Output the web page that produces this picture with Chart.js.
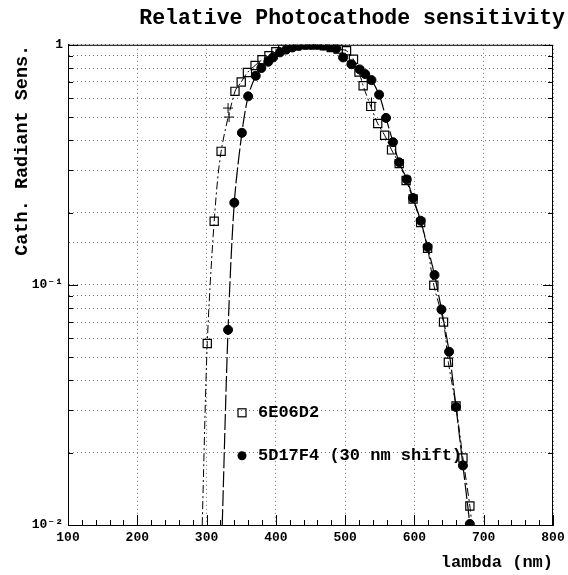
<!DOCTYPE html>
<html>
<head>
<meta charset="utf-8">
<script src="https://cdn.jsdelivr.net/npm/chart.js@4.4.1/dist/chart.umd.min.js"></script>
<style>
	html, body { margin: 0; padding: 0; background: #fff; }
</style>
</head>
<body>
<canvas id="graph_canvas" width="568" height="575"></canvas>
<script>
"use strict";

const FONT_FAMILY = '"Liberation Mono", "DejaVu Sans Mono", monospace'

// texts
const chart_title	= 'Relative Photocathode sensitivity'
const x_title		= 'lambda (nm)'
const y_title		= 'Cath. Radiant Sens.'
const a_label		= '6E06D2'
const b_label		= '5D17F4 (30 nm shift)'

// tick labels (log decades 10^-2 .. 10^0)
const y_tick_labels = ['10⁻²', '10⁻¹', '1']

// 6E06D2 : open squares
const a_lambda	= [301, 311, 321, 341, 350, 359, 370, 380, 390, 400, 410, 420, 430, 440, 450, 460, 470, 480, 490, 502, 512, 520, 526, 537, 547, 557, 567, 578, 588, 598, 609, 619, 628, 642, 649, 660, 670, 680]
const a_sens	= [0.057, 0.184, 0.36, 0.64, 0.70, 0.767, 0.82, 0.866, 0.90, 0.935, 0.96, 0.98, 0.99, 1.0, 1.0, 1.0, 0.99, 0.975, 0.96, 0.944, 0.87, 0.77, 0.675, 0.554, 0.47, 0.42, 0.365, 0.32, 0.272, 0.228, 0.182, 0.142, 0.0996, 0.07, 0.0476, 0.0313, 0.019, 0.012]

// 5D17F4 : filled circles
const b_lambda	= [331, 340, 351, 360, 371, 379, 389, 396, 406, 415, 424, 433, 442, 451, 460, 469, 478, 487, 497, 509, 521, 529, 538, 549, 559, 569, 578, 589, 598, 609, 619, 629, 639, 650, 660, 670, 680]
const b_sens	= [0.065, 0.22, 0.43, 0.61, 0.743, 0.80, 0.85, 0.886, 0.93, 0.955, 0.975, 0.99, 1.0, 1.0, 1.0, 0.995, 0.98, 0.965, 0.886, 0.83, 0.79, 0.755, 0.713, 0.62, 0.496, 0.393, 0.324, 0.275, 0.23, 0.185, 0.144, 0.11, 0.079, 0.0527, 0.031, 0.0177, 0.0101]

// fit curve ends (where the curves leave the frame)
const a_curve_start	= [293.7, 0.01]
const a_curve_end	= [683, 0.01]
const b_curve_start	= [322.6, 0.01]
const b_curve_end	= [681, 0.0095]

// "+" marks sitting on the 6E06D2 curve
const c_lambda	= [331, 332.5, 538]
const c_sens	= [0.545, 0.50, 0.575]


const to_points = (xs, ys) => xs.map((x, i) => ({x: x, y: ys[i]}))

const a_points = to_points(a_lambda, a_sens)
const b_points = to_points(b_lambda, b_sens)
const a_curve = [{x: a_curve_start[0], y: a_curve_start[1]}, ...a_points, {x: a_curve_end[0], y: a_curve_end[1]}]
const b_curve = [{x: b_curve_start[0], y: b_curve_start[1]}, ...b_points, {x: b_curve_end[0], y: b_curve_end[1]}]


// frame, inward ticks and in-plot legend
const frame_plugin = {
	id: 'frame',
	afterDraw(chart) {
		const ctx	= chart.ctx
		const area	= chart.chartArea
		const xs	= chart.scales.x
		const ys	= chart.scales.y

		ctx.save()
		ctx.strokeStyle = '#000'
		ctx.lineWidth = 1
		ctx.strokeRect(area.left + 0.5, area.top + 0.5, area.right - area.left - 1, area.bottom - area.top)

		// x ticks, every 20 nm, longer at hundreds
		ctx.beginPath()
		for (let v = 100; v <= 800; v += 20) {
			const px = Math.round(xs.getPixelForValue(v)) + 0.5
			const len = (v % 100 === 0) ? 10 : 5
			ctx.moveTo(px, area.bottom)
			ctx.lineTo(px, area.bottom - len)
		}
		// y ticks, at 1..9 x 10^n
		for (let e = -2; e <= 0; e++) {
			for (let m = 1; m <= 9; m++) {
				const v = m * Math.pow(10, e)
				if (v > 1.0001) break
				const py = Math.round(ys.getPixelForValue(v)) + 0.5
				const len = (m === 1) ? 10 : 5
				ctx.moveTo(area.left, py)
				ctx.lineTo(area.left + len, py)
				ctx.moveTo(area.right, py)
				ctx.lineTo(area.right - len, py)
			}
		}
		ctx.stroke()

		// legend
		const lx = area.left + 174
		const ly = area.top + 368
		ctx.lineWidth = 1.2
		ctx.strokeRect(lx - 4, ly - 4, 8, 8)
		ctx.beginPath()
		ctx.arc(lx, ly + 43, 4.5, 0, Math.PI * 2)
		ctx.fillStyle = '#000'
		ctx.fill()
		ctx.font = 'bold 17px ' + FONT_FAMILY
		ctx.textBaseline = 'middle'
		ctx.fillText(a_label, lx + 16, ly)
		ctx.fillText(b_label, lx + 16, ly + 43)
		ctx.restore()
	}
}


const tick_font = {family: FONT_FAMILY, size: 13, weight: 'bold'}

new Chart(document.getElementById('graph_canvas'), {
	type: 'scatter',
	data: {
		datasets: [
			{
				label: a_label + ' fit',
				data: a_curve,
				showLine: true,
				borderColor: '#000',
				borderWidth: 1,
				borderDash: [8, 3, 2, 3],
				pointRadius: 0,
				tension: 0.3
			},
			{
				label: b_label + ' fit',
				data: b_curve,
				showLine: true,
				borderColor: '#000',
				borderWidth: 1.2,
				borderDash: [16, 3],
				pointRadius: 0,
				tension: 0.3
			},
			{
				label: a_label,
				data: a_points,
				pointStyle: 'rect',
				pointRadius: 5.8,
				borderColor: '#000',
				borderWidth: 1.2,
				backgroundColor: 'rgba(0,0,0,0)'
			},
			{
				label: b_label,
				data: b_points,
				pointStyle: 'circle',
				pointRadius: 4.5,
				borderColor: '#000',
				borderWidth: 1,
				backgroundColor: '#000'
			},
			{
				label: 'marks',
				data: to_points(c_lambda, c_sens),
				pointStyle: 'cross',
				pointRadius: 5,
				borderColor: '#000',
				borderWidth: 1
			}
		]
	},
	options: {
		responsive: false,
		animation: false,
		devicePixelRatio: 1,
		layout: {
			padding: {left: 0, right: 3, top: 0, bottom: 0}
		},
		scales: {
			x: {
				type: 'linear',
				min: 100,
				max: 800,
				afterFit: (scale) => {
					scale.height = 50
					scale.paddingRight = 15
				},
				border: {display: true, color: '#000', width: 1, dash: [1, 3]},
				grid: {color: '#777', lineWidth: 1, drawTicks: false},
				ticks: {stepSize: 100, padding: 5, color: '#000', font: tick_font, maxRotation: 0},
				title: {
					display: true,
					text: x_title,
					align: 'end',
					color: '#000',
					padding: {top: 0, bottom: 2},
					font: {family: FONT_FAMILY, size: 17, weight: 'bold'}
				}
			},
			y: {
				type: 'logarithmic',
				min: 0.01,
				max: 1,
				afterFit: (scale) => { scale.width = 68 },
				border: {display: true, color: '#000', width: 1, dash: [1, 3]},
				grid: {color: '#777', lineWidth: 1, drawTicks: false},
				ticks: {
					autoSkip: false,
					padding: 5,
					color: '#000',
					font: {family: FONT_FAMILY, size: 13, weight: 'bold'},
					callback: function(value) {
						const e = Math.log10(value)
						if (Math.abs(e - Math.round(e)) > 1e-6) {
							return ''
						}
						return y_tick_labels[Math.round(e) + 2] || ''
					}
				},
				title: {
					display: true,
					text: y_title,
					align: 'end',
					color: '#000',
					padding: {top: 11, bottom: 0},
					font: {family: FONT_FAMILY, size: 18.5, weight: 'bold'}
				}
			}
		},
		plugins: {
			legend: {display: false},
			tooltip: {enabled: false},
			title: {
				display: true,
				text: chart_title,
				align: 'end',
				color: '#000',
				padding: {top: 6, bottom: 13},
				font: {family: FONT_FAMILY, size: 21.5, weight: 'bold'}
			}
		}
	},
	plugins: [frame_plugin]
})
</script>
</body>
</html>
